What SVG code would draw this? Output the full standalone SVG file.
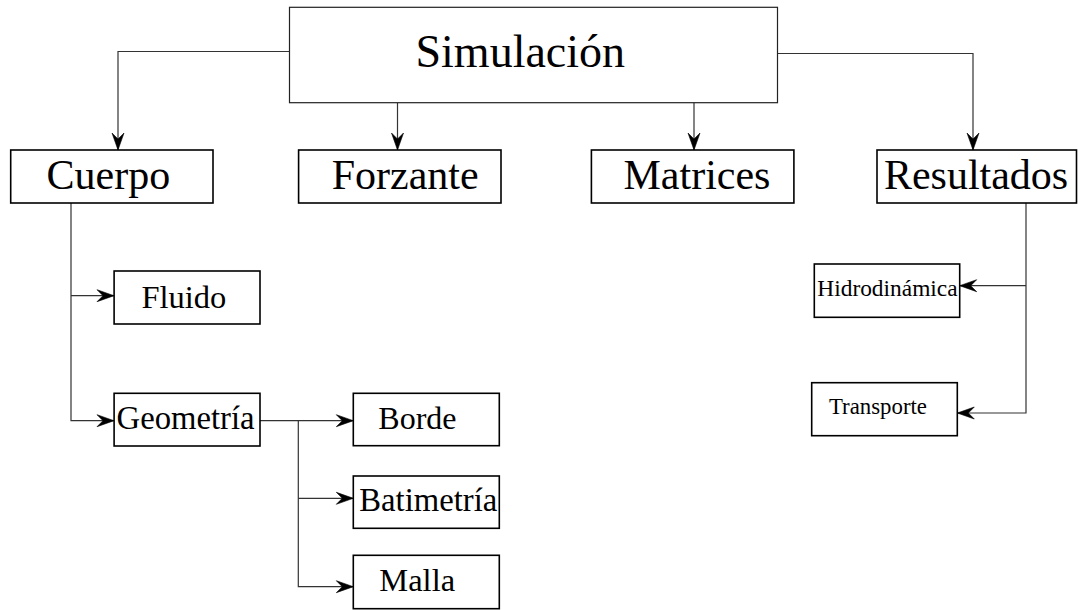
<svg xmlns="http://www.w3.org/2000/svg" width="1078" height="610" viewBox="0 0 1078 610">
<style>
.box{fill:#fff;stroke:#000;stroke-width:1.6}
.main{fill:#fff;stroke:#222;stroke-width:1.2}
.t{font-family:"Liberation Serif","Times New Roman",serif;fill:#000}
.c{fill:none;stroke:#333;stroke-width:1.2}
</style>
<defs>
<marker id="ah" markerUnits="userSpaceOnUse" markerWidth="20" markerHeight="16" viewBox="-18 -8 19 16" refX="0" refY="0" orient="auto">
<path d="M0,0 L-17,-6 L-11,0 L-17,6 Z" fill="#000" stroke="#000" stroke-width="0.6" stroke-linejoin="round"/>
</marker>
</defs>
<g id="connectors">
<polyline class="c" points="289.5,51.5 118,51.5 118,150" marker-end="url(#ah)"/>
<line class="c" x1="397.5" y1="102.7" x2="397.5" y2="150" marker-end="url(#ah)"/>
<line class="c" x1="694" y1="102.7" x2="694" y2="150" marker-end="url(#ah)"/>
<polyline class="c" points="777.5,53.5 973,53.5 973,150" marker-end="url(#ah)"/>
<polyline class="c" points="71,203 71,420.7 114,420.7" marker-end="url(#ah)"/>
<line class="c" x1="71" y1="295.7" x2="114" y2="295.7" marker-end="url(#ah)"/>
<line class="c" x1="260" y1="420.7" x2="353.3" y2="420.7" marker-end="url(#ah)"/>
<polyline class="c" points="298.3,420.7 298.3,586.7 353.3,586.7" marker-end="url(#ah)"/>
<line class="c" x1="298.3" y1="498.3" x2="353.3" y2="498.3" marker-end="url(#ah)"/>
<polyline class="c" points="1026,203 1026,413 957.3,413" marker-end="url(#ah)"/>
<line class="c" x1="1026" y1="285.7" x2="959.7" y2="285.7" marker-end="url(#ah)"/>
</g>
<g id="simulacion">
<rect class="main" x="289.5" y="7.3" width="488" height="95.4"/>
<text class="t" x="415.5" y="67" font-size="46">Simulación</text>
</g>
<g id="cuerpo">
<rect class="box" x="10.7" y="150" width="202.3" height="53"/>
<text class="t" x="46.5" y="189" font-size="42">Cuerpo</text>
</g>
<g id="forzante">
<rect class="box" x="298.6" y="150" width="202.4" height="53"/>
<text class="t" x="331.7" y="189" font-size="42">Forzante</text>
</g>
<g id="matrices">
<rect class="box" x="591.4" y="150" width="202.5" height="53"/>
<text class="t" x="623.5" y="189" font-size="42">Matrices</text>
</g>
<g id="resultados">
<rect class="box" x="877" y="150" width="199.5" height="53"/>
<text class="t" x="883.9" y="189" font-size="42">Resultados</text>
</g>
<g id="fluido">
<rect class="box" x="114.1" y="271" width="145.9" height="53"/>
<text class="t" x="141.4" y="307.5" font-size="32.5">Fluido</text>
</g>
<g id="geometria">
<rect class="box" x="114.1" y="393.3" width="145.9" height="52.7"/>
<text class="t" x="116.6" y="429" font-size="32.7">Geometría</text>
</g>
<g id="borde">
<rect class="box" x="353.3" y="393.3" width="146" height="52.4"/>
<text class="t" x="378.3" y="429" font-size="32">Borde</text>
</g>
<g id="batimetria">
<rect class="box" x="353.3" y="476" width="146" height="52.3"/>
<text class="t" x="359.3" y="510.5" font-size="32.7">Batimetría</text>
</g>
<g id="malla">
<rect class="box" x="353.3" y="555.3" width="146" height="53.4"/>
<text class="t" x="379.3" y="590.5" font-size="32.5">Malla</text>
</g>
<g id="hidrodinamica">
<rect class="box" x="814.3" y="264" width="145.4" height="53.3"/>
<text class="t" x="817.3" y="296" font-size="23.4">Hidrodinámica</text>
</g>
<g id="transporte">
<rect class="box" x="811.7" y="382.7" width="145.6" height="53"/>
<text class="t" x="829" y="413.5" font-size="22.8">Transporte</text>
</g>
</svg>
